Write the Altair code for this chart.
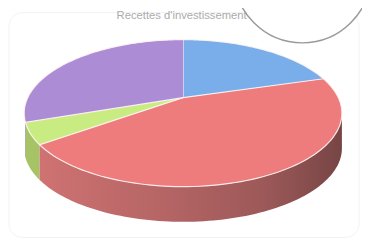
import math
import altair as alt
import pandas as pd

# ---- data ----
TITLE = "Recettes d'investissement"
categories = ["Subventions", "Emprunts", "Dotations", "Autofinancement"]
values = [20.4, 44.6, 4.7, 30.3]
top_colors = ["#7aaeea", "#ee7c7c", "#c8ec82", "#ac8cd4"]
side_colors = ["#5b87c0", "#b56262", "#a6c466", "#8a6cb0"]

# ---- geometry of the tilted pie (layout constants) ----
CX, CY = 187, 97          # pie centre
RX, RY = 158.8, 71.8      # radii
K = 0.211                 # perspective factor
DEPTH = 36                # thickness of the 3D side
A_LO = math.acos(-K)
A_HI = 2 * math.pi - A_LO - 0.1
steps = [-1] + [i / 90 for i in range(91)]   # -1 = centre point

df = pd.DataFrame({
    "cat": categories,
    "value": values,
    "order": list(range(len(categories))),
    "t": [steps] * len(categories),
})

xs = alt.Scale(domain=[8, 370], nice=False, zero=False)
ys = alt.Scale(domain=[8, 244], reverse=True, nice=False, zero=False)


def pie_base():
    return (
        alt.Chart(df)
        .transform_window(cum_end="sum(value)", sort=[alt.SortField("order")], frame=[None, 0])
        .transform_joinaggregate(total="sum(value)")
        .transform_calculate(cum_start="datum.cum_end - datum.value")
        .transform_flatten(["t"])
    )


def project(ch):
    return (
        ch.transform_calculate(f=f"1/(1+{K}*cos(datum.a))")
        .transform_calculate(px=f"datum.t < 0 ? {CX} : {CX} + {RX}*sin(datum.a)*datum.f")
        .transform_calculate(py=f"datum.t < 0 ? {CY} : {CY} - {RY}*cos(datum.a)*datum.f")
        .transform_calculate(py2=f"datum.py + {DEPTH}")
    )


# top faces
top = project(
    pie_base().transform_calculate(
        a="2*PI*(datum.cum_start + max(datum.t,0)*datum.value)/datum.total"
    )
).mark_line(stroke="#fff4f4", strokeWidth=1.2, strokeOpacity=0.9, interpolate="linear").encode(
    x=alt.X("px:Q", scale=xs, axis=None),
    y=alt.Y("py:Q", scale=ys, axis=None),
    fill=alt.Fill("cat:N", scale=alt.Scale(domain=categories, range=top_colors), legend=None),
    detail="cat:N",
    order=alt.Order("t:Q"),
)


def side_base():
    return project(
        pie_base()
        .transform_filter("datum.t >= 0")
        .transform_calculate(a0=f"max(2*PI*datum.cum_start/datum.total, {A_LO})")
        .transform_calculate(a1=f"min(2*PI*datum.cum_end/datum.total, {A_HI})")
        .transform_filter("datum.a1 > datum.a0")
        .transform_calculate(a="datum.a0 + datum.t*(datum.a1 - datum.a0)")
    )


side_enc = dict(
    x=alt.X("px:Q", scale=xs, axis=None),
    y=alt.Y("py:Q", scale=ys, axis=None),
    y2="py2:Q",
    detail="cat:N",
)

side_plain = side_base().transform_filter(
    alt.datum.cat != categories[1]
).mark_area(orient="vertical").encode(
    fill=alt.Fill("cat:N", scale=alt.Scale(domain=categories, range=side_colors), legend=None),
    **side_enc,
)

red_grad = alt.LinearGradient(
    gradient="linear", x1=0, y1=0, x2=1, y2=0,
    stops=[
        alt.GradientStop(color="#cf7272", offset=0),
        alt.GradientStop(color="#b66565", offset=0.4),
        alt.GradientStop(color="#9c5858", offset=0.75),
        alt.GradientStop(color="#774545", offset=1),
    ],
)
side_red = side_base().transform_filter(
    alt.datum.cat == categories[1]
).mark_area(orient="vertical", fill=red_grad).encode(**side_enc)

card = alt.Chart(pd.DataFrame({"k": [0]})).mark_rect(
    fill="white", stroke="#f2f2f2", strokeWidth=1, cornerRadius=14
).encode(x=alt.value(1), x2=alt.value(359), y=alt.value(2), y2=alt.value(232))

title = alt.Chart(pd.DataFrame({"title": [TITLE]})).mark_text(
    align="left", baseline="middle", fontSize=11.5, color="#ababab", font="Liberation Sans"
).encode(x=alt.value(111), y=alt.value(6), text="title:N")

bubble = alt.Chart(pd.DataFrame({"k": [0]})).mark_circle(
    size=19600, color="white", opacity=1, stroke="#9a9a9a", strokeWidth=1.5
).encode(x=alt.value(301), y=alt.value(-37))

chart = (
    alt.layer(card, side_plain, side_red, top, title, bubble)
    .resolve_scale(fill="independent")
    .properties(width=362, height=236, padding=0, autosize="none", background="white")
    .configure_view(stroke=None)
)

chart.save("out.html", embed_options={"renderer": "svg", "actions": False})
